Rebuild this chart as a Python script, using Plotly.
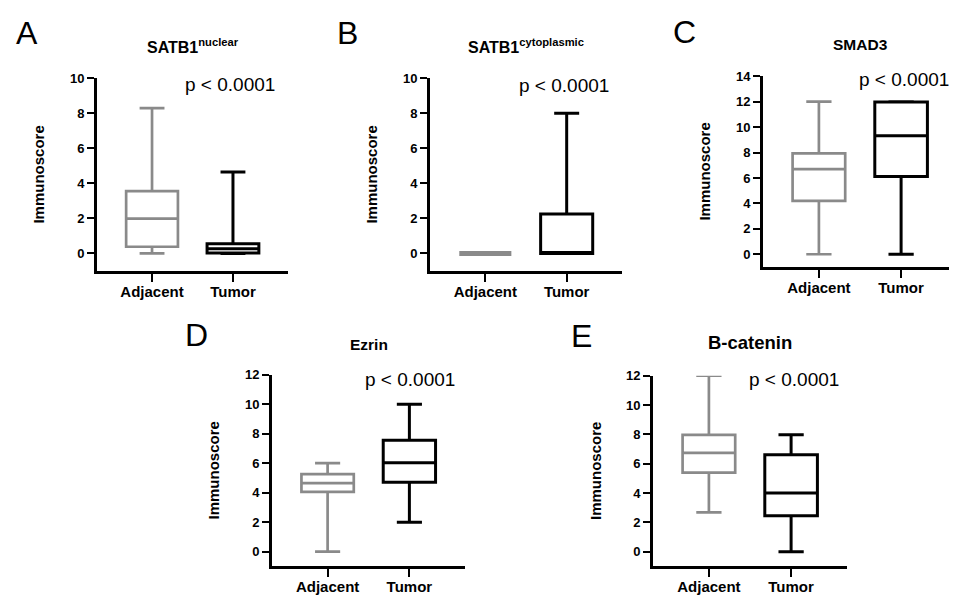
import plotly.graph_objects as go

# ---------------- data ----------------
categories = ["Adjacent", "Tumor"]
panel_letters = ["A", "B", "C", "D", "E"]
panel_titles = ["SATB1<sup>nuclear</sup>", "SATB1<sup>cytoplasmic</sup>", "SMAD3", "Ezrin", "B-catenin"]
p_text = "p < 0.0001"
y_label = "Immunoscore"

# SATB1 nuclear
a_min = [0.0, 0.0]
a_q1 = [0.38, 0.02]
a_med = [1.98, 0.27]
a_q3 = [3.56, 0.55]
a_max = [8.29, 4.65]

# SATB1 cytoplasmic
b_min = [0.0, 0.0]
b_q1 = [0.0, 0.0]
b_med = [0.0, 0.03]
b_q3 = [0.0, 2.25]
b_max = [0.0, 8.0]

# SMAD3
c_min = [0.0, 0.0]
c_q1 = [4.2, 6.12]
c_med = [6.69, 9.33]
c_q3 = [7.93, 11.98]
c_max = [12.0, 12.0]

# Ezrin
d_min = [0.0, 2.0]
d_q1 = [4.05, 4.71]
d_med = [4.65, 6.03]
d_q3 = [5.25, 7.55]
d_max = [6.0, 10.0]

# B-catenin
e_min = [2.68, 0.0]
e_q1 = [5.39, 2.45]
e_med = [6.74, 4.0]
e_q3 = [7.96, 6.61]
e_max = [12.0, 7.98]

y_tops = [10, 10, 14, 12, 12]
y_tick_values = [[0, 2, 4, 6, 8, 10], [0, 2, 4, 6, 8, 10], [0, 2, 4, 6, 8, 10, 12, 14],
                 [0, 2, 4, 6, 8, 10, 12], [0, 2, 4, 6, 8, 10, 12]]
p_y = [9.66, 9.6, 13.76, 11.68, 11.73]

stats = [
    (a_min, a_q1, a_med, a_q3, a_max),
    (b_min, b_q1, b_med, b_q3, b_max),
    (c_min, c_q1, c_med, c_q3, c_max),
    (d_min, d_q1, d_med, d_q3, d_max),
    (e_min, e_q1, e_med, e_q3, e_max),
]

# ---------------- layout geometry (pixels) ----------------
# the page body adds an 8px margin, so the figure is drawn 8px smaller and shifted
OFF = 8
W, H = 957 - OFF, 597 - OFF
# (left, right, top, bottom) of each plot area in page pixels
boxes_px = [
    (97, 288, 72, 267),
    (430, 622, 72, 267),
    (763, 957, 70, 263),
    (272, 465, 372, 566),
    (653, 847, 373, 566),
]
letter_px = [(27, 26), (347, 26), (684, 25), (196, 332), (581, 333)]
title_sizes = [16, 16, 15.5, 15.5, 18.5]
title_shift = [32, 32, 32, 30.5, 33]
p_xshift = [-3, -3, 3, 1, 3]

FONT = "Liberation Sans, Arial, sans-serif"
GREY = "#8a8a8a"
BLACK = "#000000"
colors = [GREY, BLACK]
line_w = [[2.7, 3.0], [5.0, 3.0], [2.7, 3.0], [2.7, 3.0], [2.7, 3.0]]


def px_x(v):
    return (v - OFF) / W


def px_y(v):
    return 1 - (v - OFF) / H


fig = go.Figure()
layout = dict(
    width=W, height=H,
    margin=dict(l=0, r=0, t=0, b=0),
    paper_bgcolor="white", plot_bgcolor="white",
    showlegend=False,
    font=dict(family=FONT, color="black"),
)
annotations = []

for i in range(5):
    sfx = "" if i == 0 else str(i + 1)
    xa = "xaxis" + sfx
    ya = "yaxis" + sfx
    l, r, t, b = boxes_px[i]
    mn, q1, md, q3, mx = stats[i]
    for j, cat in enumerate(categories):
        fig.add_trace(go.Box(
            x=[cat], q1=[q1[j]], median=[md[j]], q3=[q3[j]],
            lowerfence=[mn[j]], upperfence=[mx[j]],
            boxpoints=False, fillcolor="white",
            line=dict(color=colors[j], width=line_w[i][j]),
            width=0.64, whiskerwidth=0.48,
            xaxis="x" + sfx, yaxis="y" + sfx, hoverinfo="skip",
        ))
    layout[xa] = dict(
        domain=[max(0, px_x(l)), min(1, px_x(r))], anchor="y" + sfx,
        type="category", categoryorder="array", categoryarray=categories,
        range=[-0.68, 1.68],
        showline=True, linecolor="black", linewidth=2.7,
        ticks="outside", ticklen=8, tickwidth=2.2, tickcolor="black",
        ticklabelstandoff=-3,
        tickfont=dict(family=FONT, size=15, color="black", weight="bold"),
        showgrid=False, zeroline=False, fixedrange=True,
    )
    layout[ya] = dict(
        domain=[px_y(b), px_y(t)], anchor="x" + sfx,
        range=[-1, y_tops[i]],
        tickmode="array", tickvals=y_tick_values[i],
        ticktext=[str(v) for v in y_tick_values[i]],
        showline=True, linecolor="black", linewidth=2.7,
        ticks="outside", ticklen=7, tickwidth=2.2, tickcolor="black",
        tickfont=dict(family=FONT, size=13, color="black", weight="bold"),
        showgrid=False, zeroline=False, fixedrange=True,
    )
    # axis title
    annotations.append(dict(
        text=y_label, textangle=-90, showarrow=False,
        xref="x" + sfx + " domain", yref="y" + sfx + " domain",
        x=0, y=0.5, xshift=-58, xanchor="center", yanchor="middle",
        font=dict(family=FONT, size=15, color="black", weight="bold"),
    ))
    # panel title
    annotations.append(dict(
        text=panel_titles[i], showarrow=False,
        xref="x" + sfx + " domain", yref="y" + sfx + " domain",
        x=0.5, y=1, yshift=title_shift[i], xanchor="center", yanchor="middle",
        font=dict(family=FONT, size=title_sizes[i], color="black", weight="bold"),
    ))
    # p value
    annotations.append(dict(
        text=p_text, showarrow=False,
        xref="x" + sfx, yref="y" + sfx,
        x=1, y=p_y[i], xshift=p_xshift[i], xanchor="center", yanchor="middle",
        font=dict(family=FONT, size=19, color="black"),
    ))
    # panel letter
    lx, ly = letter_px[i]
    annotations.append(dict(
        text=panel_letters[i], showarrow=False,
        xref="paper", yref="paper", x=px_x(lx), y=px_y(ly),
        xanchor="center", yanchor="middle",
        font=dict(family=FONT, size=32, color="black"),
    ))

layout["annotations"] = annotations
fig.update_layout(**layout)
fig.write_html("out.html")
